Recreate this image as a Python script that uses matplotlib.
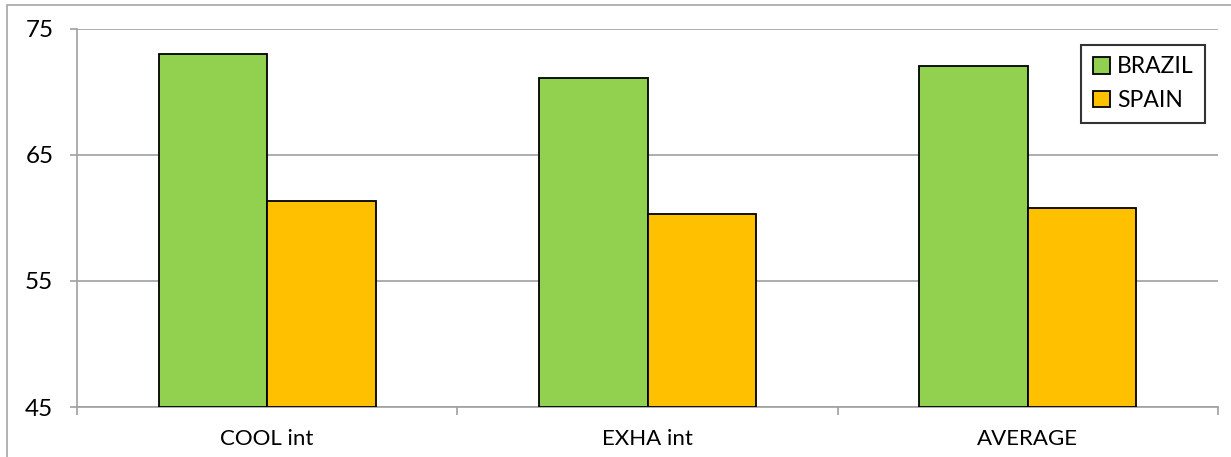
import matplotlib
matplotlib.use("Agg")
import matplotlib.pyplot as plt
from matplotlib.patches import Rectangle
import numpy as np

categories = ["COOL int", "EXHA int", "AVERAGE"]
brazil = [73.0, 71.1, 72.0]
spain = [61.3, 60.3, 60.8]
series_names = ["BRAZIL", "SPAIN"]
yticks = [45, 55, 65, 75]

plt.rcParams['font.family'] = ['Lato', 'DejaVu Sans']

W, H = 1231, 457
fig = plt.figure(figsize=(W / 100, H / 100), dpi=100)
ax = fig.add_axes([77 / W, 1 - 407 / H, (1218 - 77) / W, (407 - 28.5) / H])

# outer chart border
fig.patches.append(Rectangle((7 / W, -0.05), 1.1, 1 - 5 / H + 0.05,
                             transform=fig.transFigure, fill=False,
                             edgecolor="#A6A6A6", linewidth=1.2, zorder=0))

x = np.arange(len(categories))
bw = 0.285
ax.bar(x - bw / 2, np.array(brazil) - 45, bw, bottom=45, color="#92D050",
       edgecolor="black", linewidth=1.3, label=series_names[0], zorder=3)
ax.bar(x + bw / 2, np.array(spain) - 45, bw, bottom=45, color="#FFC000",
       edgecolor="black", linewidth=1.3, label=series_names[1], zorder=3)

ax.set_ylim(45, 75)
ax.set_xlim(-0.5, len(categories) - 0.5)
ax.set_yticks(yticks)
ax.set_yticklabels([str(t) for t in yticks], fontsize=17.5)
ax.yaxis.grid(True, color="#A0A0A0", linewidth=1.2, zorder=0)
ax.set_axisbelow(True)

ax.set_xticks(np.arange(-0.5, len(categories)))
ax.set_xticklabels([""] * (len(categories) + 1))
ax.set_xticks(x, minor=True)
ax.set_xticklabels(categories, minor=True, fontsize=16)
ax.tick_params(axis="x", which="major", length=6, color="#A0A0A0", width=1.2)
ax.tick_params(axis="x", which="minor", length=0, pad=16)
ax.tick_params(axis="y", length=5, color="#A0A0A0", width=1.2, pad=12)

for s in ["top", "right"]:
    ax.spines[s].set_visible(False)
for s in ["left", "bottom"]:
    ax.spines[s].set_color("#A0A0A0")
    ax.spines[s].set_linewidth(1.2)

leg = ax.legend(loc="upper right", bbox_to_anchor=(1205 / W, 1 - 45 / H),
                bbox_transform=fig.transFigure, fontsize=16.5, frameon=True,
                fancybox=False, edgecolor="black", handlelength=0.75,
                handleheight=0.75, handletextpad=0.3, borderpad=0.5,
                labelspacing=0.55, borderaxespad=0)
leg.get_frame().set_linewidth(1.5)

fig.savefig("out.png", dpi=100)
